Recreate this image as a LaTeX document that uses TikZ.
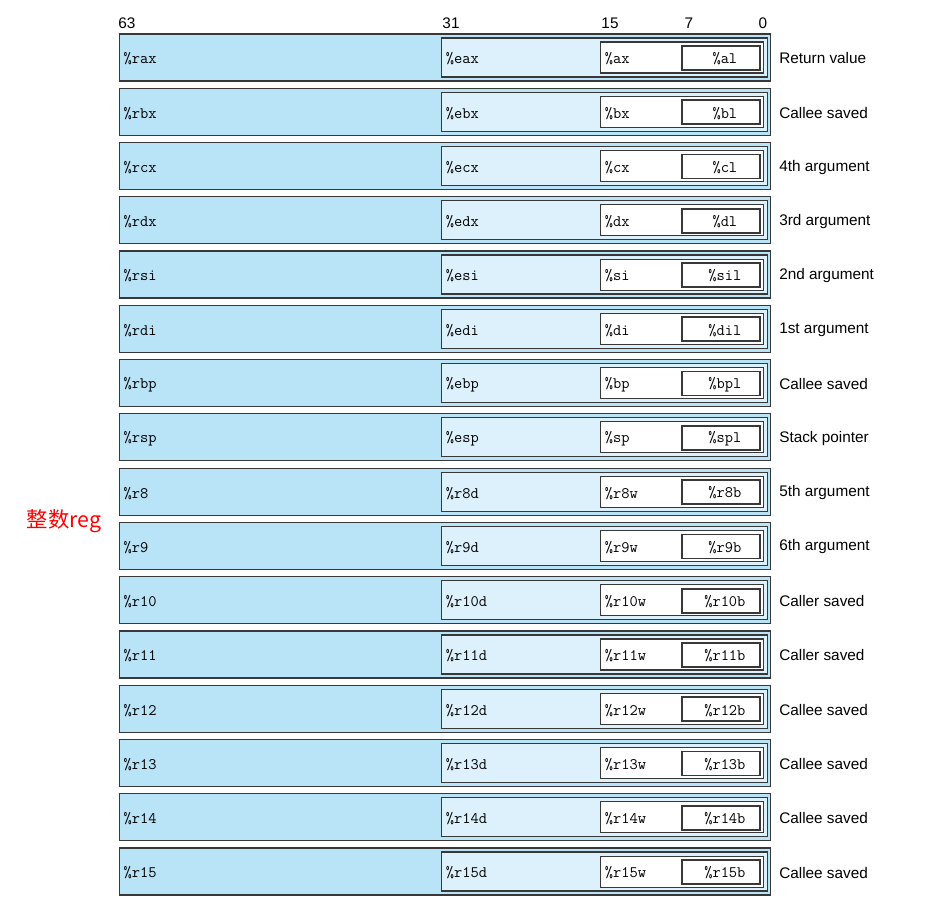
\documentclass[tikz,border=0pt]{standalone}
\usepackage{fontspec}
\setsansfont{Liberation Sans}
\newfontfamily\cjkfont{Noto Sans CJK SC}
\usetikzlibrary{positioning}
\definecolor{qwordblue}{HTML}{B9E3F7}
\definecolor{dwordblue}{HTML}{DCF1FB}
\definecolor{boxframe}{HTML}{383838}

% one register row: index, 64/32/16/8 bit names, usage
\newcommand*\regrow[6]{
\node[qword] (q#1) at (119,{57.5+#1*54.27}) {};
\node[dword] (d#1) at (441,{57.5+#1*54.27}) {};
\node[word] (w#1) at (600,{57.5+#1*54.27}) {};
\node[byte] (b#1) at (681,{58+#1*54.27}) {};
\node[regname,right=3.2pt of q#1.west] (qn#1) {\%#2};
\node[regname,right=3.5pt of d#1.west] (dn#1) {\%#3};
\node[regname,right=3.5pt of w#1.west] (wn#1) {\%#4};
\node[regname,xshift=3pt,yshift=0.4pt] (bn#1) at (b#1.center) {\%#5};
\node[usage] (u#1) at (779,{58.5+#1*54.27}) {#6};
}

\begin{document}
\begin{tikzpicture}[x=0.75pt,y=-0.75pt]
\tikzset{
 qword/.style={draw=boxframe,fill=qwordblue,line width=0.9pt,anchor=west,
   minimum width=488.25pt,minimum height=35.25pt,inner sep=0pt},
 dword/.style={draw=boxframe,fill=dwordblue,line width=0.9pt,anchor=west,
   minimum width=244.5pt,minimum height=29.25pt,inner sep=0pt},
 word/.style={draw=boxframe,fill=white,line width=0.8pt,anchor=west,
   minimum width=122.25pt,minimum height=23.25pt,inner sep=0pt},
 byte/.style={draw=boxframe,fill=white,line width=1.3pt,anchor=west,
   minimum width=58.5pt,minimum height=18pt,inner sep=0pt},
 regname/.style={inner sep=0pt,yshift=-1.1pt,font=\ttfamily\fontsize{12}{14}\selectfont},
 usage/.style={anchor=west,inner sep=0pt,font=\sffamily\fontsize{11.5}{14}\selectfont},
 bitnum/.style={inner sep=0pt,font=\sffamily\fontsize{11.5}{14}\selectfont}
}
\useasboundingbox (0,0) rectangle (930,912);

\node[bitnum] (n63) at (127,23.5) {63};
\node[bitnum] (n31) at (451,23.5) {31};
\node[bitnum] (n15) at (610,23.5) {15};
\node[bitnum] (n7) at (689,23.5) {7};
\node[bitnum] (n0) at (763,23.5) {0};

\regrow{0}{rax}{eax}{ax}{al}{Return value}
\regrow{1}{rbx}{ebx}{bx}{bl}{Callee saved}
\regrow{2}{rcx}{ecx}{cx}{cl}{4th argument}
\regrow{3}{rdx}{edx}{dx}{dl}{3rd argument}
\regrow{4}{rsi}{esi}{si}{sil}{2nd argument}
\regrow{5}{rdi}{edi}{di}{dil}{1st argument}
\regrow{6}{rbp}{ebp}{bp}{bpl}{Callee saved}
\regrow{7}{rsp}{esp}{sp}{spl}{Stack pointer}
\regrow{8}{r8}{r8d}{r8w}{r8b}{5th argument}
\regrow{9}{r9}{r9d}{r9w}{r9b}{6th argument}
\regrow{10}{r10}{r10d}{r10w}{r10b}{Caller saved}
\regrow{11}{r11}{r11d}{r11w}{r11b}{Caller saved}
\regrow{12}{r12}{r12d}{r12w}{r12b}{Callee saved}
\regrow{13}{r13}{r13d}{r13w}{r13b}{Callee saved}
\regrow{14}{r14}{r14d}{r14w}{r14b}{Callee saved}
\regrow{15}{r15}{r15d}{r15w}{r15b}{Callee saved}

\node[red,inner sep=0pt,font=\fontsize{16}{18}\selectfont] (intreg) at (64,521) {\cjkfont 整数reg};

\end{tikzpicture}
\end{document}
